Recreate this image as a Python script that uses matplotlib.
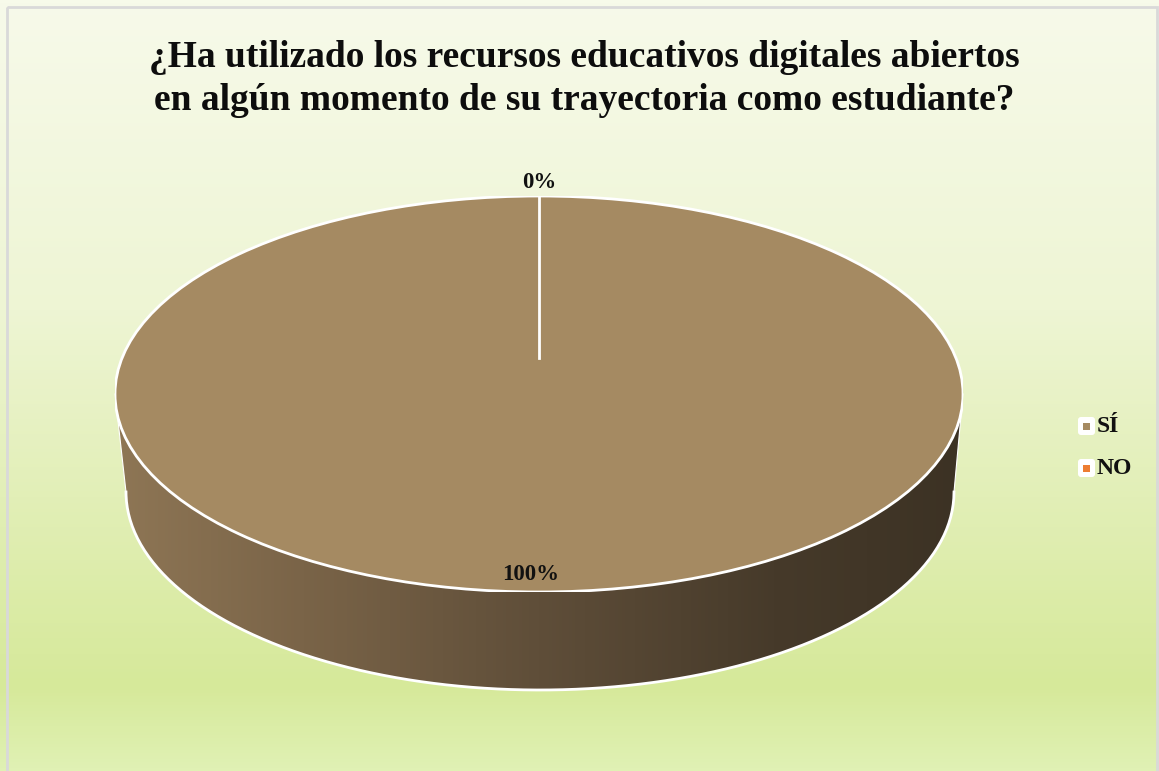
import numpy as np
import matplotlib.pyplot as plt
from matplotlib.patches import Polygon, Circle, FancyBboxPatch, Rectangle
from matplotlib.colors import LinearSegmentedColormap

titulo = "¿Ha utilizado los recursos educativos digitales abiertos\nen algún momento de su trayectoria como estudiante?"
categorias = ["SÍ", "NO"]
valores = [100, 0]
colores = ["#A58A62", "#ED7D31"]

W, H = 1159, 771
fig = plt.figure(figsize=(W / 100, H / 100), dpi=100)
ax = fig.add_axes([0, 0, 1, 1])
ax.set_xlim(0, W)
ax.set_ylim(H, 0)
ax.axis("off")

# fondo degradado
fondo = LinearSegmentedColormap.from_list("fondo", [
    (0.0, (247/255, 250/255, 234/255)),
    (0.4, (238/255, 245/255, 212/255)),
    (0.89, (214/255, 233/255, 154/255)),
    (1.0, (224/255, 241/255, 180/255))])
grad = np.linspace(0, 1, 256).reshape(-1, 1)
ax.imshow(grad, cmap=fondo, extent=[0, W, H, 0], aspect="auto", zorder=0)
ax.add_patch(Rectangle((7, 7), W - 9, H + 20, fill=False, ec="#d9d9d9", lw=2, zorder=1))

# geometria del pastel 3D
cx, cy, rx, ry = 539, 394, 424, 198
bx, by, brx, bry = 540, 492, 414, 198

t = np.linspace(np.pi, 0, 200)
top_x = cx + rx * np.cos(t)
top_y = cy + ry * np.sin(t)
t2 = np.linspace(0, np.pi, 200)
bot_x = bx + brx * np.cos(t2)
bot_y = by + bry * np.sin(t2)
lado = Polygon(np.column_stack([np.r_[top_x, bot_x], np.r_[top_y, bot_y]]),
               closed=True, fc="none", ec="none", zorder=2)
ax.add_patch(lado)

lado_cmap = LinearSegmentedColormap.from_list("lado", [
    (0.0, (142/255, 118/255, 85/255)),
    (0.22, (122/255, 100/255, 72/255)),
    (0.5, (95/255, 78/255, 57/255)),
    (0.78, (70/255, 58/255, 42/255)),
    (1.0, (60/255, 50/255, 36/255))])
hgrad = np.linspace(0, 1, 256).reshape(1, -1)
im = ax.imshow(hgrad, cmap=lado_cmap, extent=[cx - rx, cx + rx, 700, 380],
               aspect="auto", zorder=2)
im.set_clip_path(lado)
ax.plot(bot_x, bot_y, color="white", lw=2, zorder=3)
ax.plot([top_x[0], bot_x[-1]], [top_y[0], bot_y[-1]], color="white", lw=0.8, zorder=3)
ax.plot([top_x[-1], bot_x[0]], [top_y[-1], bot_y[0]], color="white", lw=0.8, zorder=3)

# cara superior
pax = fig.add_axes([(cx - rx) / W, 1 - (cy + ry) / H, 2 * rx / W, 2 * ry / H])
pax.pie(valores, colors=colores, startangle=90, counterclock=False,
        wedgeprops=dict(linewidth=0))
pax.set_aspect("auto")
pax.set_xlim(-1, 1)
pax.set_ylim(-1, 1)
pax.axis("off")
pax.add_patch(Circle((0, 0), 1, fill=False, ec="white", lw=2))

total = sum(valores)
acum = np.cumsum([0] + valores)
bordes = sorted(set(np.round((90 - 360 * acum / total) % 360, 6)))
for a in bordes:
    r = np.radians(a)
    pax.plot([0.18 * np.cos(r), np.cos(r)], [0.18 * np.sin(r), np.sin(r)],
             color="white", lw=2)

radios = [0.91, 1.066]
for i, v in enumerate(valores):
    medio = np.radians(90 - 360 * (acum[i] + v / 2) / total)
    pax.text(radios[i] * np.cos(medio) - (0.02 if i == 0 else 0),
             radios[i] * np.sin(medio), f"{v / total * 100:.0f}%",
             ha="center", va="center", fontsize=16.5, fontweight="bold",
             family="Liberation Serif", color="#111111", clip_on=False)

# titulo
ax.text(584, 79, titulo, ha="center", va="center", fontsize=27,
        fontweight="bold", family="Liberation Serif", linespacing=1.27,
        color="#0d0d0d", zorder=5)

# leyenda
for i, (cat, col) in enumerate(zip(categorias, colores)):
    y = 426 + i * 42
    ax.add_patch(FancyBboxPatch((1078, y - 9), 17, 18, boxstyle="round,pad=0,rounding_size=3",
                                fc="white", ec="none", zorder=5))
    ax.add_patch(Rectangle((1083, y - 3.5), 7, 7, fc=col, ec="none", zorder=6))
    ax.text(1097, y, cat, ha="left", va="center", fontsize=17, fontweight="bold",
            family="Liberation Serif", color="#111111", zorder=6)

fig.savefig("out.png", dpi=100)
